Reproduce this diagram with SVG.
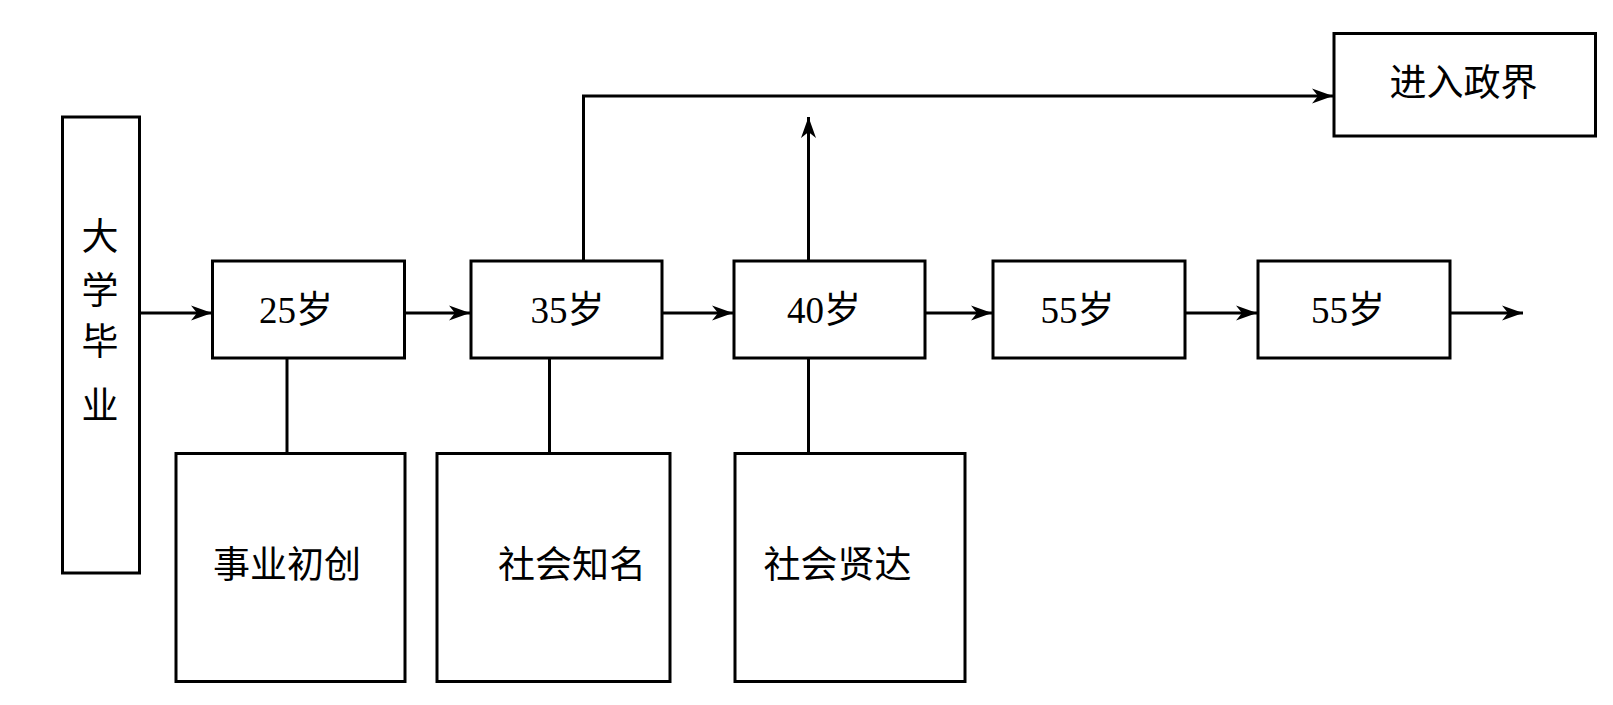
<svg xmlns="http://www.w3.org/2000/svg" width="1613" height="705" viewBox="0 0 1613 705">
<style>
.box{fill:#fff;stroke:#000;stroke-width:3}
.ln{fill:none;stroke:#000;stroke-width:3}
.t{font-family:"Liberation Serif","Noto Sans CJK SC",serif;font-size:37px;fill:#000;text-anchor:middle}
</style>
<defs>
<marker id="ah" markerUnits="userSpaceOnUse" markerWidth="24" markerHeight="18" viewBox="-22 -9 24 18" refX="0" refY="0" orient="auto">
<path d="M0,0 L-21,-7.5 L-15,0 L-21,7.5 Z" fill="#000"/>
</marker>
</defs>
<rect width="1613" height="705" fill="#fff"/>
<g id="connectors">
<line class="ln" x1="139" y1="313" x2="212" y2="313" marker-end="url(#ah)"/>
<line class="ln" x1="404" y1="313" x2="470" y2="313" marker-end="url(#ah)"/>
<line class="ln" x1="662" y1="313" x2="733" y2="313" marker-end="url(#ah)"/>
<line class="ln" x1="925" y1="313" x2="992" y2="313" marker-end="url(#ah)"/>
<line class="ln" x1="1185" y1="313" x2="1257" y2="313" marker-end="url(#ah)"/>
<line class="ln" x1="1450" y1="313" x2="1523" y2="313" marker-end="url(#ah)"/>
<polyline class="ln" points="583.5,261 583.5,96 1333,96" marker-end="url(#ah)"/>
<line class="ln" x1="808.5" y1="261" x2="808.5" y2="117" marker-end="url(#ah)"/>
<line class="ln" x1="287" y1="358" x2="287" y2="453"/>
<line class="ln" x1="549.5" y1="358" x2="549.5" y2="453"/>
<line class="ln" x1="808.5" y1="358" x2="808.5" y2="453"/>
</g>
<g id="graduate">
<rect class="box" x="62.5" y="117" width="77" height="456"/>
<text class="t" x="100" y="250">大</text>
<text class="t" x="100" y="304">学</text>
<text class="t" x="100" y="355">毕</text>
<text class="t" x="100" y="419">业</text>
</g>
<g id="age25">
<rect class="box" x="212.5" y="261" width="192" height="97"/>
<text class="t" x="296" y="323">25岁</text>
</g>
<g id="age35">
<rect class="box" x="471" y="261" width="191" height="97"/>
<text class="t" x="567.5" y="323">35岁</text>
</g>
<g id="age40">
<rect class="box" x="734" y="261" width="191" height="97"/>
<text class="t" x="824" y="323">40岁</text>
</g>
<g id="age55a">
<rect class="box" x="993" y="261" width="192" height="97"/>
<text class="t" x="1077.5" y="323">55岁</text>
</g>
<g id="age55b">
<rect class="box" x="1258" y="261" width="192" height="97"/>
<text class="t" x="1348" y="323">55岁</text>
</g>
<g id="politics">
<rect class="box" x="1334" y="33.5" width="261.5" height="102.5"/>
<text class="t" x="1463.5" y="96">进入政界</text>
</g>
<g id="startup">
<rect class="box" x="176" y="453.5" width="229" height="228"/>
<text class="t" x="287" y="578">事业初创</text>
</g>
<g id="famous">
<rect class="box" x="437" y="453.5" width="233" height="228"/>
<text class="t" x="572" y="578">社会知名</text>
</g>
<g id="eminent">
<rect class="box" x="735" y="453.5" width="230" height="228"/>
<text class="t" x="837.5" y="578">社会贤达</text>
</g>
</svg>
